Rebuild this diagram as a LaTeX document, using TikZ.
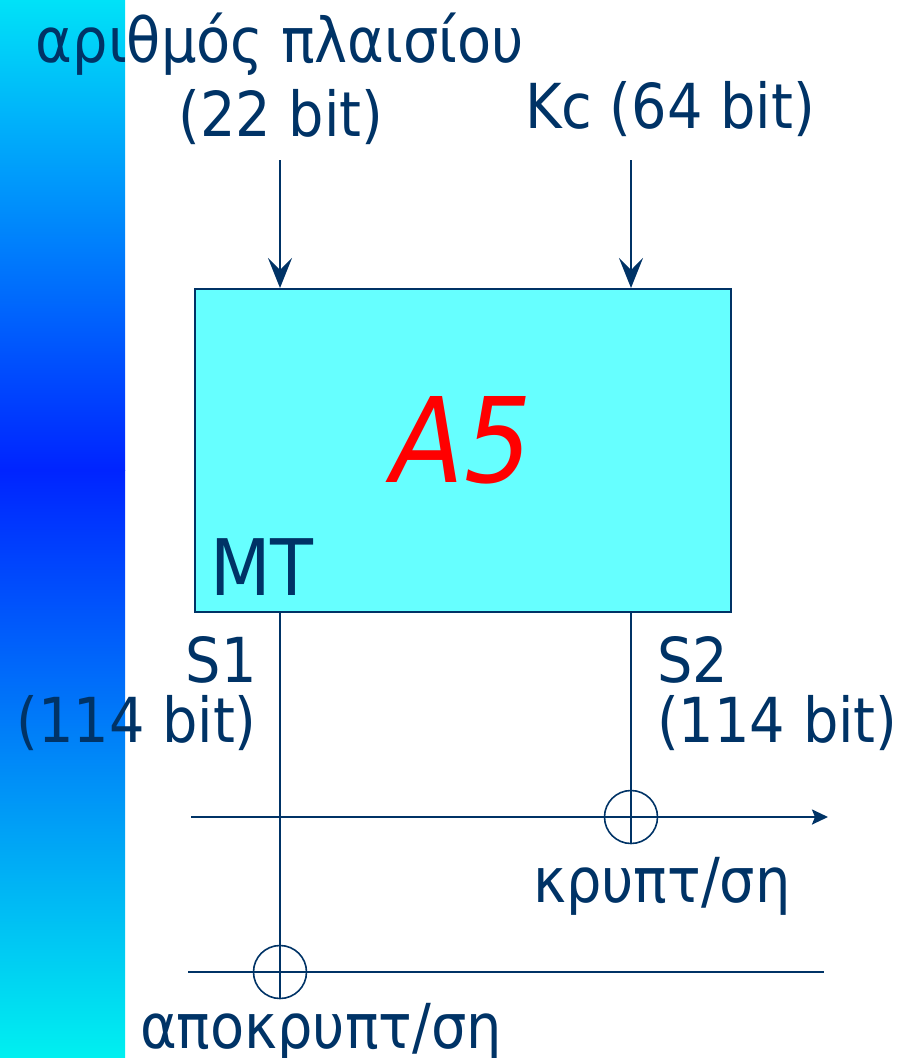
\documentclass[tikz,border=0pt]{standalone}
\usepackage{fontspec}
\setmainfont{DejaVu Sans Condensed}
\usetikzlibrary{arrows.meta,positioning,calc}
\definecolor{navy}{RGB}{0,51,102}
\definecolor{boxcyan}{RGB}{102,255,255}
\definecolor{stripTop}{RGB}{0,226,248}
\definecolor{stripMid}{RGB}{0,36,255}
\definecolor{stripBot}{RGB}{0,240,240}

\begin{document}
\begin{tikzpicture}[x=1pt, y=-1pt,
  txt/.style={text=navy, font=\fontsize{62}{74}\selectfont, inner sep=0pt},
  ln/.style={draw=navy, line width=2.4pt},
  inarr/.style={ln, -{Stealth[length=30pt, width=24pt, inset=12pt]}},
  outarr/.style={ln, -{Stealth[length=16pt, width=15pt, inset=3pt]}},
  xorc/.style={draw=navy, line width=1.6pt, circle, minimum size=53pt, inner sep=0pt},
  blk/.style={draw=navy, line width=2pt, fill=boxcyan, minimum width=536pt, minimum height=323pt, inner sep=0pt}
]
\useasboundingbox (0,0) rectangle (906,1058);

% side strip
\shade[top color=stripTop, bottom color=stripMid] (0,0) rectangle (125,470);
\shade[top color=stripMid, bottom color=stripBot] (0,470) rectangle (125,1058);

% inputs
\node[txt, anchor=base] (frm) at (280,62) {αριθμός πλαισίου};
\node[txt, anchor=base] (frmbits) at (281,136) {(22 bit)};
\node[txt, anchor=base] (kc) at (670,128) {Kc (64 bit)};
\coordinate (inF) at (280,160);
\coordinate (inK) at (631,160);

% A5 block
\node[blk] (A5box) at (463,450.5) {};
\node[text=red, inner sep=0pt, anchor=base, font=\fontsize{118}{130}\selectfont\itshape] (A5) at (462,482) {A5};
\node[txt, anchor=base west, font=\fontsize{78}{90}\selectfont] (MT) at (210,595) {MT};

\draw[inarr] (inF) -- (inF |- A5box.north);
\draw[inarr] (inK) -- (inK |- A5box.north);

% keystreams
\node[txt, anchor=base east] (S1) at (257,682) {S1};
\node[txt, anchor=base east] (S1bits) at (257,742) {(114 bit)};
\node[txt, anchor=base west] (S2) at (657,682) {S2};
\node[txt, anchor=base west] (S2bits) at (657,742) {(114 bit)};

% encryption
\coordinate (encIn) at (191,817);
\coordinate (encOut) at (828,817);
\node[xorc] (xorE) at (631,817) {};
\draw[outarr] (encIn) -- (encOut);
\draw[ln] (inK |- A5box.south) -- (xorE.south);
\node[txt, anchor=base] (enc) at (662,902) {κρυπτ/ση};

% decryption
\coordinate (decIn) at (188,972);
\coordinate (decOut) at (824,972);
\node[xorc] (xorD) at (280,972) {};
\draw[ln] (decIn) -- (decOut);
\draw[ln] (inF |- A5box.south) -- (xorD.south);
\node[txt, anchor=base] (dec) at (321,1048) {αποκρυπτ/ση};

\end{tikzpicture}
\end{document}
